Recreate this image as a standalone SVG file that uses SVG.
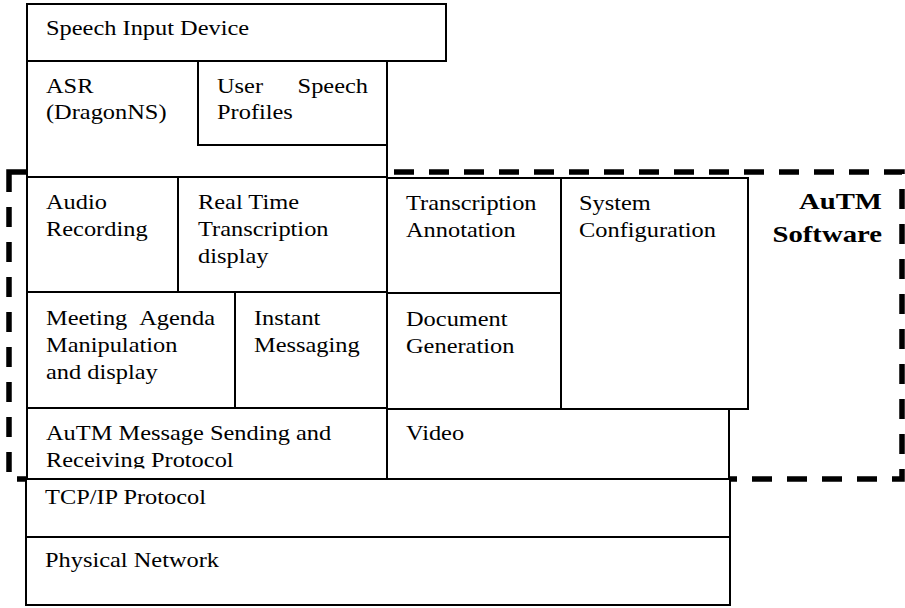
<svg xmlns="http://www.w3.org/2000/svg" width="905" height="608" viewBox="0 0 905 608">
<style>
.box{fill:#fff;stroke:#000;stroke-width:2}
.t{font-family:"Liberation Serif","Times New Roman",serif;font-size:20px;fill:#000}
.b{font-family:"Liberation Serif","Times New Roman",serif;font-size:23px;font-weight:bold;fill:#000;text-anchor:end}
.e{text-anchor:end}
.dash{fill:none;stroke:#000;stroke-width:5.5;stroke-dasharray:20 15}
</style>
<defs>
<clipPath id="clipMsg"><rect x="27" y="408" width="360" height="60.5"/></clipPath>
</defs>
<rect width="905" height="608" fill="#fff"/>
<g id="autm-software-boundary">
<rect class="dash" x="9" y="172" width="893" height="307"/>
<text class="b" transform="translate(882,209) scale(1.25 1)">AuTM</text>
<text class="b" transform="translate(882,242) scale(1.25 1)">Software</text>
</g>
<g id="speech-input-device">
<rect class="box" x="27" y="4" width="419" height="57"/>
<text class="t" transform="translate(46,35) scale(1.22 1)">Speech Input Device</text>
</g>
<g id="asr">
<rect class="box" x="27" y="61" width="360" height="116"/>
<text class="t" transform="translate(46,93) scale(1.22 1)">ASR</text>
<text class="t" transform="translate(46,119) scale(1.22 1)">(DragonNS)</text>
</g>
<g id="user-speech-profiles">
<rect class="box" x="198" y="61" width="189" height="84"/>
<text class="t" transform="translate(217,93) scale(1.22 1)">User</text>
<text class="t e" transform="translate(368,93) scale(1.22 1)">Speech</text>
<text class="t" transform="translate(217,119) scale(1.22 1)">Profiles</text>
</g>
<g id="audio-recording">
<rect class="box" x="27" y="177" width="151" height="115"/>
<text class="t" transform="translate(46,209) scale(1.22 1)">Audio</text>
<text class="t" transform="translate(46,236) scale(1.22 1)">Recording</text>
</g>
<g id="real-time-transcription">
<rect class="box" x="178" y="177" width="209" height="115"/>
<text class="t" transform="translate(198,209) scale(1.22 1)">Real Time</text>
<text class="t" transform="translate(198,236) scale(1.22 1)">Transcription</text>
<text class="t" transform="translate(198,263) scale(1.22 1)">display</text>
</g>
<g id="transcription-annotation">
<rect class="box" x="387" y="178" width="174" height="115"/>
<text class="t" transform="translate(406,210) scale(1.22 1)">Transcription</text>
<text class="t" transform="translate(406,237) scale(1.22 1)">Annotation</text>
</g>
<g id="system-configuration">
<rect class="box" x="561" y="178" width="187" height="231"/>
<text class="t" transform="translate(579,210) scale(1.22 1)">System</text>
<text class="t" transform="translate(579,237) scale(1.22 1)">Configuration</text>
</g>
<g id="meeting-agenda">
<rect class="box" x="27" y="292" width="208" height="116"/>
<text class="t" transform="translate(46,325) scale(1.22 1)">Meeting</text>
<text class="t e" transform="translate(215,325) scale(1.22 1)">Agenda</text>
<text class="t" transform="translate(46,352) scale(1.22 1)">Manipulation</text>
<text class="t" transform="translate(46,379) scale(1.22 1)">and display</text>
</g>
<g id="instant-messaging">
<rect class="box" x="235" y="292" width="152" height="116"/>
<text class="t" transform="translate(254,325) scale(1.22 1)">Instant</text>
<text class="t" transform="translate(254,352) scale(1.22 1)">Messaging</text>
</g>
<g id="document-generation">
<rect class="box" x="387" y="293" width="174" height="116"/>
<text class="t" transform="translate(406,326) scale(1.22 1)">Document</text>
<text class="t" transform="translate(406,353) scale(1.22 1)">Generation</text>
</g>
<g id="message-protocol">
<rect class="box" x="27" y="408" width="360" height="71"/>
<g clip-path="url(#clipMsg)">
<text class="t" transform="translate(46,440) scale(1.22 1)">AuTM Message Sending and</text>
<text class="t" transform="translate(46,467) scale(1.22 1)">Receiving Protocol</text>
</g>
</g>
<g id="video">
<rect class="box" x="387" y="409" width="342" height="70"/>
<text class="t" transform="translate(406,440) scale(1.22 1)">Video</text>
</g>
<g id="tcp-ip-protocol">
<rect class="box" x="26" y="479" width="704" height="58"/>
<text class="t" transform="translate(45,504) scale(1.22 1)">TCP/IP Protocol</text>
</g>
<g id="physical-network">
<rect class="box" x="26" y="537" width="704" height="68"/>
<text class="t" transform="translate(45,567) scale(1.22 1)">Physical Network</text>
</g>
</svg>
